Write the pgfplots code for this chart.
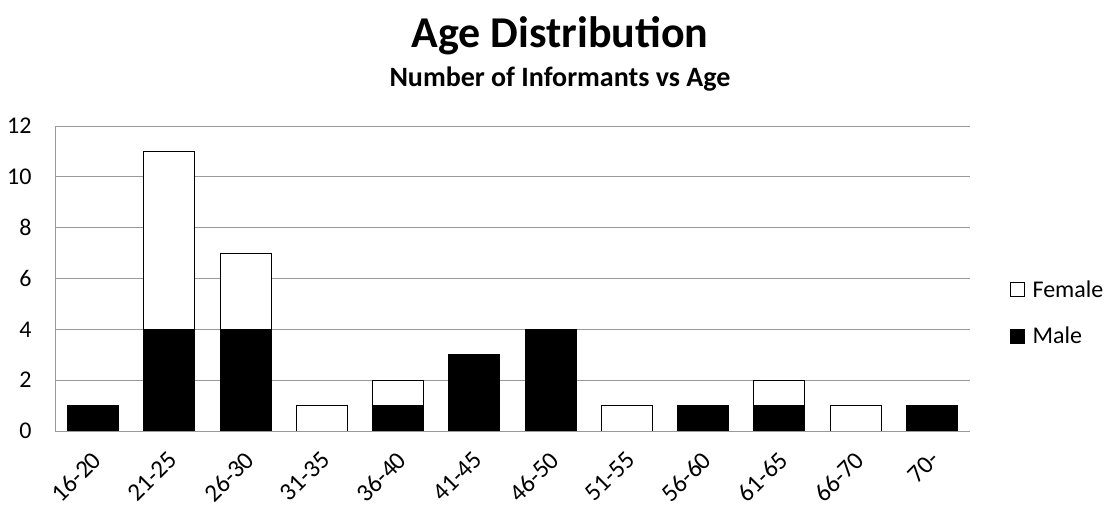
\documentclass[border=0pt]{standalone}
\usepackage{fontspec}
\setmainfont{Carlito}
\usepackage{pgfplots}
\pgfplotsset{compat=1.18}
\begin{document}
\begin{tikzpicture}[x=1bp,y=1bp]
\useasboundingbox (-55,-75) rectangle (1054,431);
\begin{axis}[
    at={(0,0)}, anchor=south west,
    scale only axis, width=915bp, height=305bp,
    ybar stacked, bar width=51bp,
    xmin=-0.5, xmax=11.5, ymin=0, ymax=12,
    ytick={0,2,...,12},
    xtick=data,
    xticklabels={16-20,21-25,26-30,31-35,36-40,41-45,46-50,51-55,56-60,61-65,66-70,70-},
    % shifts act in the rotated frame
    x tick label style={rotate=45, anchor=north east, font=\fontsize{25bp}{27bp}\selectfont, xshift=-11.5bp, yshift=-8.5bp},
    y tick label style={font=\fontsize{24bp}{26bp}\selectfont, xshift=-20bp},
    /pgf/number format/assume math mode=true,
    major tick length=0pt,
    ymajorgrids, grid style={draw=gray!80, line width=0.8bp},
    axis x line*=bottom, axis y line*=left,
    axis line style={draw=gray!80, line width=0.8bp, -},
    enlarge x limits=false,
    legend style={at={(1.04,0.387)}, anchor=west, draw=none, fill=none,
      font=\fontsize{24bp}{26bp}\selectfont, row sep=24bp,
      /tikz/every odd column/.append style={column sep=6bp}},
    legend cell align=left,
    reverse legend,
  ]
  \addplot[draw=black, fill=black, line width=0.8bp,
    legend image code/.code={\draw[draw=black, fill=black, line width=0.8bp] (0bp,-7bp) rectangle (14bp,7bp);}] coordinates {
    (0,1) (1,4) (2,4) (3,0) (4,1) (5,3) (6,4) (7,0) (8,1) (9,1) (10,0) (11,1)};
  \addplot[draw=black, fill=white, line width=0.8bp,
    legend image code/.code={\draw[draw=black, fill=white, line width=0.8bp] (0bp,-7bp) rectangle (14bp,7bp);}] coordinates {
    (0,0) (1,7) (2,3) (3,1) (4,1) (5,0) (6,0) (7,1) (8,0) (9,1) (10,1) (11,0)};
  \legend{Male, Female}
\end{axis}
\node[font=\bfseries\fontsize{44bp}{48bp}\selectfont] at (505,395) {Age Distribution};
\node[font=\bfseries\fontsize{28bp}{32bp}\selectfont] at (505,352) {Number of Informants vs Age};
\end{tikzpicture}
\end{document}
